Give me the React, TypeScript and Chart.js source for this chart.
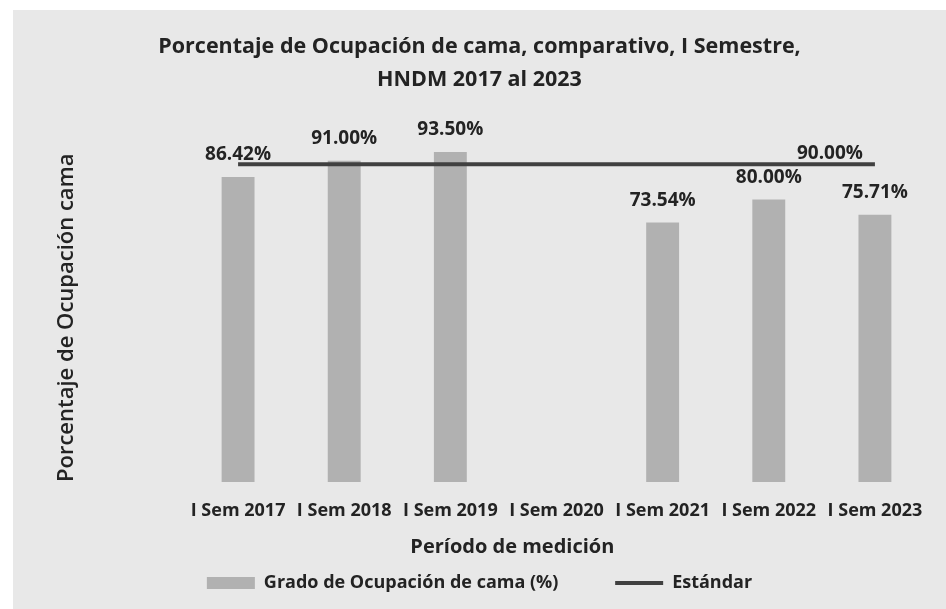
import React, { useEffect, useRef } from 'react';
import { Chart, registerables } from 'chart.js';

Chart.register(...registerables);

// ---- data ----
const categories = ['I Sem 2017', 'I Sem 2018', 'I Sem 2019', 'I Sem 2020', 'I Sem 2021', 'I Sem 2022', 'I Sem 2023'];
const occupancy: (number | null)[] = [86.42, 91.0, 93.5, null, 73.54, 80.0, 75.71];
const standard = [90, 90, 90, 90, 90, 90, 90];
const titleLines = ['Porcentaje de Ocupación de cama, comparativo, I Semestre,', 'HNDM 2017 al 2023'];
const yAxisTitle = 'Porcentaje de Ocupación cama';
const xAxisTitle = 'Período de medición';
const seriesNames = ['Grado de Ocupación de cama (%)', 'Estándar'];
const yMin = 0;
const yMax = 100;

// ---- styles ----
const FONT = '"Open Sans", "Noto Sans", sans-serif';
const TEXT = '#232323';
const BAR = '#b1b1b1';
const LINE = '#404040';
const BG = '#e8e8e8';
const NB = '\u00a0';

const background = {
  id: 'background',
  beforeDraw(chart: any) {
    const { ctx, width, height } = chart;
    ctx.save();
    ctx.fillStyle = '#ffffff';
    ctx.fillRect(0, 0, width, height);
    ctx.fillStyle = BG;
    ctx.fillRect(13, 10, width - 13, height - 10);
    ctx.restore();
  },
};

const valueLabels = {
  id: 'valueLabels',
  afterDatasetsDraw(chart: any) {
    const { ctx } = chart;
    ctx.save();
    ctx.font = `bold 19px ${FONT}`;
    ctx.fillStyle = TEXT;
    ctx.textAlign = 'center';
    ctx.textBaseline = 'middle';
    const barMeta = chart.getDatasetMeta(0);
    barMeta.data.forEach((el: any, i: number) => {
      const v = occupancy[i];
      if (v == null) return;
      ctx.fillText(v.toFixed(2) + '%', el.x, el.y - 22);
    });
    const lineMeta = chart.getDatasetMeta(1);
    const lastIdx = standard.length - 1;
    const last = lineMeta.data[lastIdx];
    ctx.fillText(standard[lastIdx].toFixed(2) + '%', last.x - 45, last.y - 11);
    ctx.restore();
  },
};

export default function App() {
  const ref = useRef<HTMLCanvasElement | null>(null);

  useEffect(() => {
    if (!ref.current) return;
    const chart = new Chart(ref.current, {
      type: 'bar',
      data: {
        labels: categories,
        datasets: [
          {
            type: 'bar',
            label: seriesNames[0],
            data: occupancy,
            backgroundColor: BAR,
            borderWidth: 0,
            barPercentage: 0.31,
            categoryPercentage: 1,
            order: 2,
          },
          {
            type: 'line',
            label: seriesNames[1],
            data: standard,
            borderColor: LINE,
            backgroundColor: LINE,
            borderWidth: 4,
            pointRadius: 0,
            order: 1,
          },
        ] as any,
      },
      options: {
        responsive: false,
        animation: false,
        layout: { padding: { left: 31, right: 18, top: 20, bottom: 7 } },
        plugins: {
          title: {
            display: true,
            text: titleLines,
            color: TEXT,
            font: { family: FONT, size: 21.5, weight: 'bold', lineHeight: 33 / 21.5 },
            padding: { top: 10.5, bottom: 32.5 },
          },
          legend: {
            display: true,
            position: 'bottom',
            labels: {
              color: TEXT,
              font: { family: FONT, size: 18, weight: 'bold' },
              usePointStyle: true,
              pointStyleWidth: 48,
              boxHeight: 12,
              padding: 10,
              sort: (a: any, b: any) => a.datasetIndex - b.datasetIndex,
              generateLabels: (c: any) => {
                const items = Chart.defaults.plugins.legend.labels.generateLabels(c);
                return items.map((it: any) =>
                  it.datasetIndex === 0
                    ? { ...it, text: it.text + NB.repeat(10), pointStyle: 'rect', fillStyle: BAR, strokeStyle: BAR, lineWidth: 0 }
                    : { ...it, pointStyle: 'line', fillStyle: LINE, strokeStyle: LINE, lineWidth: 4 }
                );
              },
            },
          },
          tooltip: { enabled: false },
        },
        scales: {
          x: {
            grid: { display: false, drawTicks: false },
            border: { display: false },
            ticks: {
              color: TEXT,
              font: { family: FONT, size: 18, weight: 'bold' },
              padding: 18.2,
              maxRotation: 0,
              autoSkip: false,
            },
            title: {
              display: true,
              text: xAxisTitle + NB.repeat(17),
              color: TEXT,
              font: { family: FONT, size: 20, weight: 'bold' },
              padding: { top: -5, bottom: 5 },
            },
          },
          y: {
            min: yMin,
            max: yMax,
            grid: { display: false, drawTicks: false },
            border: { display: false },
            ticks: { display: false },
            afterFit: (s: any) => {
              s.width = 154;
            },
            title: {
              display: true,
              text: yAxisTitle,
              align: 'start',
              color: TEXT,
              font: { family: FONT, size: 22, weight: '600' },
              padding: { top: 22.8, bottom: 0 },
            },
          },
        },
      } as any,
      plugins: [background, valueLabels],
    });
    return () => chart.destroy();
  }, []);

  return (
    <div style={{ position: 'fixed', left: 0, top: 0, width: 946, height: 609, background: '#fff' }}>
      <canvas ref={ref} width={946} height={609} style={{ display: 'block' }} />
    </div>
  );
}
